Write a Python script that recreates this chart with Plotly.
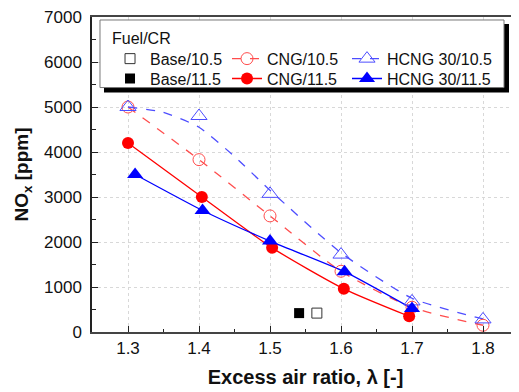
import plotly.graph_objects as go

# ---- data ----
base105_x = [1.566]
base105_y = [420]
base115_x = [1.541]
base115_y = [420]

cng105_x = [1.30, 1.40, 1.50, 1.60, 1.70, 1.80]
cng105_y = [5000, 3830, 2580, 1350, 550, 150]

cng115_x = [1.300, 1.404, 1.503, 1.604, 1.696]
cng115_y = [4200, 3000, 1870, 960, 350]

hcng105_x = [1.30, 1.40, 1.50, 1.60, 1.70, 1.80]
hcng105_y = [5000, 4800, 3070, 1720, 680, 280]

hcng115_x = [1.310, 1.405, 1.500, 1.605, 1.700]
hcng115_y = [3500, 2700, 2020, 1340, 520]

# fitted trend line of HCNG 30/10.5 as drawn in the reference
hcng105_fit_x = [1.30, 1.35, 1.40, 1.45, 1.50, 1.60, 1.70, 1.80]
hcng105_fit_y = [5000, 4880, 4550, 3900, 3150, 1760, 750, 290]

x_ticks = [1.3, 1.4, 1.5, 1.6, 1.7, 1.8]
y_ticks = [0, 1000, 2000, 3000, 4000, 5000, 6000, 7000]

RED = "#ff0000"
RED_L = "#ff4d4d"
BLUE = "#0000ff"
BLUE_L = "#4d4dff"

fig = go.Figure()

# trend lines
fig.add_trace(go.Scatter(x=cng105_x, y=cng105_y, mode="lines", line=dict(color=RED_L, width=1.3, dash="dash", shape="spline", smoothing=0.7), showlegend=False, hoverinfo="skip"))
fig.add_trace(go.Scatter(x=hcng105_fit_x, y=hcng105_fit_y, mode="lines", line=dict(color=BLUE_L, width=1.3, dash="dash", shape="spline", smoothing=0.6), showlegend=False, hoverinfo="skip"))
fig.add_trace(go.Scatter(x=cng115_x, y=cng115_y, mode="lines", line=dict(color=RED, width=1.3, shape="spline", smoothing=0.6), showlegend=False, hoverinfo="skip"))
fig.add_trace(go.Scatter(x=hcng115_x, y=hcng115_y, mode="lines", line=dict(color=BLUE, width=1.3, shape="spline", smoothing=0.5), showlegend=False, hoverinfo="skip"))

# markers
fig.add_trace(go.Scatter(x=cng105_x, y=cng105_y, mode="markers", marker=dict(symbol="circle-open", size=12, color=RED_L, line=dict(width=1)), showlegend=False))
fig.add_trace(go.Scatter(x=hcng105_x, y=hcng105_y, mode="markers", marker=dict(symbol="triangle-up-open", size=14, color=BLUE_L, line=dict(width=1)), showlegend=False))
fig.add_trace(go.Scatter(x=cng115_x, y=cng115_y, mode="markers", marker=dict(symbol="circle", size=12, color=RED), showlegend=False))
fig.add_trace(go.Scatter(x=hcng115_x, y=hcng115_y, mode="markers", marker=dict(symbol="triangle-up", size=14, color=BLUE), showlegend=False))
fig.add_trace(go.Scatter(x=base105_x, y=base105_y, mode="markers", marker=dict(symbol="square-open", size=10, color="#333333", line=dict(width=1)), showlegend=False))
fig.add_trace(go.Scatter(x=base115_x, y=base115_y, mode="markers", marker=dict(symbol="square", size=10, color="#000000"), showlegend=False))

# legend entries: one small legend per entry, arranged as a 3x2 grid
leg = [
    ("Base/10.5", "markers", dict(symbol="square-open", size=10, color="#333333", line=dict(width=1)), None),
    ("Base/11.5", "markers", dict(symbol="square", size=10, color="#000000"), None),
    ("CNG/10.5", "lines+markers", dict(symbol="circle-open", size=12, color=RED_L, line=dict(width=1)), dict(color=RED_L, width=1.3, dash="dash")),
    ("CNG/11.5", "lines+markers", dict(symbol="circle", size=12, color=RED), dict(color=RED, width=1.3)),
    ("HCNG 30/10.5", "lines+markers", dict(symbol="triangle-up-open", size=14, color=BLUE_L, line=dict(width=1)), dict(color=BLUE_L, width=1.3, dash="dash")),
    ("HCNG 30/11.5", "lines+markers", dict(symbol="triangle-up", size=14, color=BLUE), dict(color=BLUE, width=1.3)),
]
col_x = [0.0422, 0.3162, 0.5972]
row_y = [0.8675, 0.8044]

legend_layouts = {}
for i, (name, mode, mk, ln) in enumerate(leg):
    key = "legend" if i == 0 else f"legend{i+1}"
    kw = dict(x=[None], y=[None], mode=mode, name=name, marker=mk, legend=key)
    if ln:
        kw["line"] = ln
    fig.add_trace(go.Scatter(**kw))
    legend_layouts[key] = dict(
        x=col_x[i // 2], y=row_y[i % 2], xanchor="left", yanchor="middle",
        bgcolor="rgba(0,0,0,0)", borderwidth=0,
        font=dict(size=16, color="#111111"), itemwidth=30,
    )

FONT = "Liberation Sans, Arial, sans-serif"

# legend box with drop shadow
fig.add_shape(type="rect", xref="paper", yref="paper", x0=0.0281, x1=0.9766, y0=0.7603, y1=0.978,
              fillcolor="black", line=dict(width=0), layer="above")
fig.add_shape(type="rect", xref="paper", yref="paper", x0=0.0187, x1=0.9649, y0=0.776, y1=0.9905,
              fillcolor="white", line=dict(width=1, color="#777777"), layer="above")
fig.add_annotation(text="Fuel/CR", xref="paper", yref="paper", x=0.0422, y=0.9306,
                   xanchor="left", yanchor="middle", showarrow=False,
                   font=dict(size=16, color="#111111"))

fig.update_layout(
    width=511, height=384,
    margin=dict(l=84, r=0, t=7, b=60),
    paper_bgcolor="white", plot_bgcolor="white",
    font=dict(family=FONT, color="#111111", size=17),
    xaxis=dict(
        range=[1.2493, 1.8507], tickvals=x_ticks, ticktext=[f"{v:.1f}" for v in x_ticks],
        showgrid=True, gridcolor="#d8d8d8", griddash="dot", gridwidth=1,
        ticks="inside", ticklen=6, tickwidth=1.3, tickcolor="#222222",
        minor=dict(dtick=0.05, tick0=1.25, ticks="inside", ticklen=3, tickcolor="#222222", showgrid=False),
        showline=True, linecolor="#444444", linewidth=2, mirror=True,
        zeroline=False, ticklabeloverflow="allow",
        title=dict(text="<b>Excess air ratio, λ [-]</b>", font=dict(size=20), standoff=13),
        tickfont=dict(size=17),
    ),
    yaxis=dict(
        range=[0, 7000], tickvals=y_ticks,
        showgrid=True, gridcolor="#d8d8d8", griddash="dot", gridwidth=1,
        ticks="inside", ticklen=6, tickwidth=1.3, tickcolor="#222222",
        minor=dict(dtick=500, ticks="inside", ticklen=4, tickcolor="#222222", showgrid=False),
        showline=True, linecolor="#222222", linewidth=1.5, mirror=False,
        zeroline=False, ticklabelstandoff=5, ticklabeloverflow="allow",
        title=dict(text="<b>NO<sub>x</sub> [ppm]</b>", font=dict(size=19), standoff=10),
        tickfont=dict(size=17),
    ),
    **legend_layouts,
)

fig.write_html("out.html")
